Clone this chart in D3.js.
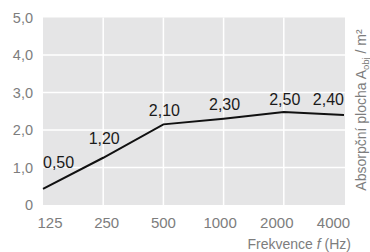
<!DOCTYPE html>
<html>
<head>
<meta charset="utf-8">
<script src="https://cdn.jsdelivr.net/npm/d3@7"></script>
<style>
    body { margin: 0; background: #fff; }
    svg { display: block; font-family: "Liberation Sans", Arial, sans-serif; }
</style>
</head>
<body>
<svg></svg>
<script>
const frequencies = ['125', '250', '500', '1000', '2000', '4000'];
const absorption = [0.43, 1.26, 2.15, 2.30, 2.48, 2.40];
const valueLabels = ['0,50', '1,20', '2,10', '2,30', '2,50', '2,40'];
const yTicks = [0, 1, 2, 3, 4, 5];
const yTickLabels = ['0', '1,0', '2,0', '3,0', '4,0', '5,0'];

const width = 370, height = 252;
const plot = { left: 43, right: 344, top: 17.5, bottom: 205 };

const svg = d3.select('svg').attr('width', width).attr('height', height);

const x = d3.scalePoint().domain(frequencies).range([plot.left, plot.right]);
const xLabel = d3.scalePoint().domain(frequencies).range([49.5, 333]);
const y = d3.scaleLinear().domain([0, 5]).range([plot.bottom, plot.top]);

svg.append('rect')
    .attr('x', plot.left)
    .attr('y', plot.top)
    .attr('width', plot.right - plot.left + 1)
    .attr('height', plot.bottom - plot.top)
    .attr('fill', '#e5e5e6');

// grid
svg.append('g')
    .selectAll('line')
    .data(yTicks.slice(1, -1))
    .enter()
    .append('line')
    .attr('x1', plot.left)
    .attr('x2', plot.right + 1)
    .attr('y1', d => y(d))
    .attr('y2', d => y(d))
    .attr('stroke', '#fff')
    .attr('stroke-width', 1.5);

svg.append('g')
    .selectAll('line')
    .data(frequencies.slice(1, -1))
    .enter()
    .append('line')
    .attr('x1', d => x(d))
    .attr('x2', d => x(d))
    .attr('y1', plot.top)
    .attr('y2', plot.bottom)
    .attr('stroke', '#fff')
    .attr('stroke-width', 1.5);

// y axis labels
const yAxis = d3.axisLeft(y)
    .tickValues(yTicks)
    .tickFormat((d, i) => yTickLabels[i])
    .tickSize(0)
    .tickPadding(10);
svg.append('g')
    .attr('transform', `translate(${plot.left},0)`)
    .call(yAxis)
    .call(g => g.select('.domain').remove())
    .call(g => g.selectAll('text')
        .attr('fill', '#7d7d7d')
        .attr('font-size', '14.5px')
        .attr('font-family', '"Liberation Sans", Arial, sans-serif'));

// x axis labels
const xAxis = d3.axisBottom(xLabel).tickSize(0).tickPadding(12);
svg.append('g')
    .attr('transform', `translate(0,${plot.bottom})`)
    .call(xAxis)
    .call(g => g.select('.domain').remove())
    .call(g => g.selectAll('text')
        .attr('fill', '#7d7d7d')
        .attr('font-size', '15px')
        .attr('font-family', '"Liberation Sans", Arial, sans-serif'));

// line
const line = d3.line()
    .x((d, i) => x(frequencies[i]))
    .y(d => y(d));
svg.append('path')
    .datum(absorption)
    .attr('d', line)
    .attr('fill', 'none')
    .attr('stroke', '#111')
    .attr('stroke-width', 2);

// value labels
const labelDy = [-21, -14, -8, -9, -7, -10];
svg.append('g')
    .selectAll('text')
    .data(valueLabels)
    .enter()
    .append('text')
    .text(d => d)
    .attr('x', (d, i) => x(frequencies[i]) + (i === 0 ? 0 : i === valueLabels.length - 1 ? 0 : 1))
    .attr('y', (d, i) => y(absorption[i]) + labelDy[i])
    .attr('text-anchor', (d, i) => i === 0 ? 'start' : i === valueLabels.length - 1 ? 'end' : 'middle')
    .attr('font-size', '16px')
    .attr('fill', '#1a1a1a');

// axis titles
const xTitle = svg.append('text')
    .attr('x', 351)
    .attr('y', 248.5)
    .attr('text-anchor', 'end')
    .attr('font-size', '14px')
    .attr('fill', '#7d7d7d');
xTitle.append('tspan').text('Frekvence ');
xTitle.append('tspan').attr('font-style', 'italic').text('f');
xTitle.append('tspan').text(' (Hz)');

const yTitle = svg.append('text')
    .attr('transform', 'translate(366,110) rotate(-90)')
    .attr('text-anchor', 'middle')
    .attr('font-size', '14px')
    .attr('fill', '#7d7d7d');
yTitle.append('tspan').text('Absorpční plocha A');
yTitle.append('tspan').attr('font-size', '9.5px').attr('dy', 3).text('obj');
yTitle.append('tspan').attr('dy', -3).text(' / m²');
</script>
</body>
</html>
